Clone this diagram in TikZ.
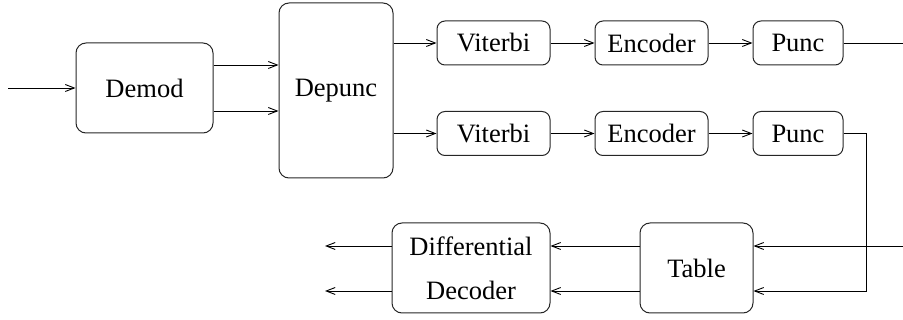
\documentclass[tikz,border=0pt]{standalone}
\usepackage{fontspec}
\setmainfont{Liberation Serif}
\usetikzlibrary{arrows.meta}
\begin{document}
\begin{tikzpicture}[x=1pt,y=-1pt,
  blk/.style={draw=black!85, line width=1pt, rounded corners=10pt, inner sep=0pt,
    font=\fontsize{26.5}{44}\selectfont, align=center},
  arr/.style={line width=0.9pt, -{Straight Barb[length=9pt,width=7pt,line width=0.9pt]}},
  wire/.style={line width=0.9pt}]
\useasboundingbox (0,0) rectangle (903,320);

% processing blocks
\node[blk, minimum width=137pt, minimum height=90pt] (demod) at (144.5,88) {Demod};
\node[blk, minimum width=114pt, minimum height=175pt] (depunc) at (336,90.5) {Depunc};
\node[blk, rounded corners=8pt, minimum width=113pt, minimum height=44pt] (vit1) at (493.5,43) {Viterbi};
\node[blk, rounded corners=8pt, minimum width=113pt, minimum height=44pt] (enc1) at (651.5,43) {Encoder};
\node[blk, rounded corners=8pt, minimum width=90pt, minimum height=44pt] (pun1) at (798,43) {Punc};
\node[blk, rounded corners=8pt, minimum width=113pt, minimum height=44pt] (vit2) at (493.5,133.5) {Viterbi};
\node[blk, rounded corners=8pt, minimum width=113pt, minimum height=44pt] (enc2) at (651.5,133.5) {Encoder};
\node[blk, rounded corners=8pt, minimum width=90pt, minimum height=44pt] (pun2) at (798,133.5) {Punc};
\node[blk, minimum width=113pt, minimum height=90pt] (table) at (696.5,268) {Table};
\node[blk, minimum width=158pt, minimum height=90pt] (diff) at (471,268) {Differential\\Decoder};

% free ends
\coordinate (in) at (8,88);
\coordinate (outA) at (903,43);
\coordinate (inB) at (903,246);
\coordinate (turn) at (866,133.5);
\coordinate (turnB) at (866,291);
\coordinate (leftA) at (325,246);
\coordinate (leftB) at (325,291);

% connectors
\draw[arr] (in) -- (demod.west);
\draw[arr] (demod.east |- 0,65) -- (depunc.west |- 0,65);
\draw[arr] (demod.east |- 0,111) -- (depunc.west |- 0,111);
\draw[arr] (depunc.east |- vit1.west) -- (vit1.west);
\draw[arr] (depunc.east |- vit2.west) -- (vit2.west);
\draw[arr] (vit1) -- (enc1);
\draw[arr] (enc1) -- (pun1);
\draw[arr] (vit2) -- (enc2);
\draw[arr] (enc2) -- (pun2);
\draw[wire] (pun1.east) -- (outA);
\draw[arr] (pun2.east) -- (turn) -- (turnB) -- (table.east |- turnB);
\draw[arr] (inB) -- (table.east |- inB);
\draw[arr] (table.west |- inB) -- (diff.east |- inB);
\draw[arr] (table.west |- turnB) -- (diff.east |- turnB);
\draw[arr] (diff.west |- leftA) -- (leftA);
\draw[arr] (diff.west |- leftB) -- (leftB);
\end{tikzpicture}
\end{document}
